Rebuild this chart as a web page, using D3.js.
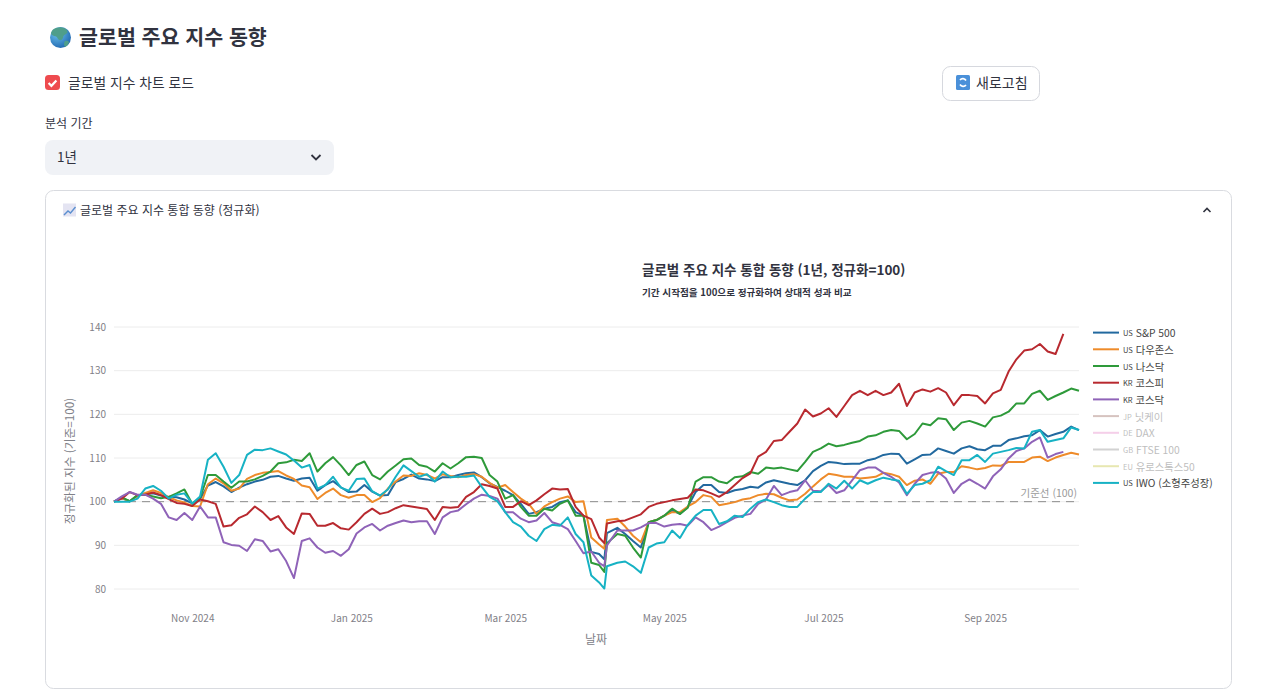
<!DOCTYPE html>
<html lang="ko">
<head>
<meta charset="utf-8">
<title>글로벌 주요 지수 동향</title>
<script src="https://cdn.jsdelivr.net/npm/d3@7"></script>
<style>
    html, body { margin: 0; padding: 0; background: #fff; overflow: hidden; }
    svg { display: block; }
    text { font-family: "Noto Sans CJK KR", "Noto Sans", sans-serif; }
</style>
</head>
<body>
<svg id="page" width="1280" height="694"></svg>
<script>
// roughly one value every 3 days, with the April 8-9 low and rebound kept as their own points
const dates = [
    ...d3.timeDay.range(new Date(2024, 9, 2), new Date(2025, 3, 7), 3),
    new Date(2025, 3, 8),
    new Date(2025, 3, 9),
    ...d3.timeDay.range(new Date(2025, 3, 13), new Date(2025, 9, 8), 3)
];

const sp500 = [
    100,100.8,100.1,101.4,101.8,101.9,101.4,101.1,101,100.5,99.6,100.6,103.7,104.5,103.5,102.2,103.2,104,104.6,105,105.7,
    105.9,105.3,104.8,105.3,105.5,102.5,103.8,104.7,103.3,102.2,102.3,103.8,102.3,101.4,101.5,104.5,105.2,106.2,105.3,105.1,104.7,
    105.6,105.6,106.1,106.5,106.7,105.6,104.2,103.4,102.5,101.5,99.5,97.2,97.6,98.4,98.8,99.9,100.3,97.6,96.8,88.5,88,86.8,92.8,94,
    92.6,91,89.5,95.3,95.8,96.8,98,97.2,98.8,102.2,103.8,103.8,102.2,102,102.6,
    102.9,103.4,103.2,104.4,104.9,104.5,104.1,103.8,104.9,107,108.2,109.1,108.9,108.6,108.7,108.7,109.5,109.9,110.7,111,110.9,
    108.7,109.7,110.7,110.8,112.2,111.6,111,112.2,112.7,112,111.8,112.8,112.8,114.1,114.5,115,115.2,116.4,114.9,115.5,116,117.2,116.4
];
const dow = [
    100,100.8,100.1,101.3,102,102.6,102,101,100.3,99.8,99,98.9,104,105.3,104.2,102.5,103,105.2,106.1,106.6,106.8,
    107,106,105.2,103.7,103.3,100.6,102,103,101.5,100.9,101.5,101.5,99.9,100.8,103,104.6,106,105.9,106.5,106.1,105.3,
    106.3,105.9,105.6,106.1,106.3,105.7,104.3,103.2,103.8,102.2,100.7,99.5,97.2,98.9,99.9,100.7,101.2,99.9,100.1,91.8,90.2,89.2,95.8,96.1,
    94.3,92.2,90.7,95.3,95.8,96.8,97.6,97.6,98.9,99.9,101.5,101.1,99.2,99.5,99.9,
    100.5,100.8,101.5,101.8,101.7,100.9,100.3,100.5,101.8,103.5,105.1,106.4,106.1,105.7,105.7,105.3,105.5,105.7,106.6,106.3,105.7,
    103.8,104.8,105.1,104.1,106.4,106.8,106.8,108.1,107.8,107.4,107.7,108.3,108.2,109.1,109.1,109.1,110.1,110.3,109.3,110.1,110.7,111.2,110.8
];
const nasdaq = [
    100,101,100.1,101.5,101.6,101.2,100.8,101.1,101.9,102.8,99.5,100.9,106.1,106.1,104.6,103.2,104.6,104.6,105.1,105.9,106.9,
    108.8,109,109.6,109.3,111.1,106.9,108.8,110.2,108.3,106.1,108.4,109.2,106.1,105.1,106.9,108.3,109.7,109.9,108.4,108,106.9,
    108.8,107.6,108.8,110.2,110.3,110,106.1,104.6,100.7,101.5,98.8,96.8,96.8,98.4,98,99.5,100.3,96.8,96.8,86,85.5,83.9,90.5,92.6,
    92.2,89.5,87.2,95.3,95.8,96.8,98.4,97.2,98.6,104.6,105.6,105.6,104.6,104.2,105.6,
    105.8,106.8,106.4,107.8,107.6,107.8,107.4,107,109.1,111.4,112.2,113.3,112.7,113,113.5,113.9,114.9,115.2,116,116.4,116.2,
    114.3,115.5,117.9,117.5,119.1,118.9,116.4,118.1,118.5,117.9,117.2,119.3,119.7,120.6,122.5,122.5,124.7,125.4,123.3,124.2,125,125.9,125.4
];
const kospi = [
    100,100.7,102.2,101.5,101.6,102.1,101.5,100.6,99.7,99.5,99,100.5,100.1,99.5,94.3,94.6,96.3,97.1,98.9,97.6,95.8,
    96.7,94.1,92.6,97.3,97.2,94.5,94.5,95.1,93.9,93.6,95.3,97.2,98.4,97.2,97.6,98.5,99.2,98.9,98.6,98.3,95.8,
    98.8,98.6,98.8,101.1,102.2,104,103.6,103,98.8,98.8,100.1,99.2,100.3,101.7,103,102.8,102.9,98.8,96.8,96,91.8,90.5,95,95.5,
    95.7,96.4,97.1,98.8,99.5,99.9,100.3,100.6,100.9,102.8,102.6,101.9,101.1,102.2,103.8,
    105.4,106.5,110.3,111.4,113.9,114.1,116,117.9,121.1,119.5,120.2,121.4,119.4,121.9,124.4,125.4,124.4,125.4,124.4,125,127,
    121.9,125,125.7,125.2,126,125,122.1,124.4,124.4,124.2,122.5,124.8,125.6,129.8,132.6,134.6,134.9,136.1,134.4,133.8,138.4,null,null
];
const kosdaq = [
    100,101.2,102.2,101.6,101.6,100.7,99.5,96.4,95.8,97.4,95.8,98.9,96.4,96.4,90.7,90.1,89.9,88.7,91.4,91,88.6,
    89.1,86.4,82.5,91,91.6,89.5,88.3,88.7,87.6,89.1,92.7,94.1,94.9,93.4,94.5,95.1,95.7,95.3,95.5,95.5,92.6,
    96.4,97.6,98,99.4,100.7,101.6,101.3,100.7,97.6,97.6,96.1,95.3,95.7,97.4,95.3,94.7,93.7,91,88.2,88.6,86,85.2,90,93.4,
    93.4,93.4,94.1,95.1,95.1,94.3,94.7,94.9,94.5,96.4,95.3,93.5,94.3,95.3,96.3,
    96.8,97.2,99.5,100.5,103.6,101.5,102.2,102.6,104.9,102.5,102.4,103.8,102,102.6,104.9,107.2,107.8,107.8,106.6,105.7,104.4,
    101.5,104.1,106.1,106.6,106.8,105.3,102,104.1,105.1,104.1,103,105.8,107.4,109.9,111.6,112.2,113.7,114.7,110.1,110.9,111.4,null,null
];
const iwo = [
    100,100,100,100.7,103,103.6,102.5,100.7,101.6,101.9,99.6,101.2,109.6,111.1,108,104.3,106.1,110.7,111.9,111.8,112.2,
    111.5,110.8,109.4,107.8,108.4,103,103.8,105.7,103.2,102.5,105.2,105.3,102.4,101.4,102.8,105.7,108.3,107,105.7,106.3,104.6,
    106.9,105.6,105.7,105.7,106,103.4,101.1,100.1,97.6,95.3,94.3,92.2,91,93.7,94.7,94.5,96.4,92.6,90.7,83.1,81.5,80.1,85.2,86,
    86.3,85.2,83.7,89.5,90.4,90.7,93.4,91.7,94.7,96.8,98.1,98.1,94.9,95.5,96.8,
    96.5,98.4,99.9,100.5,99.9,99.2,98.8,98.8,100.7,102.2,102.2,104.1,103,104.8,103,104.9,104.1,104.9,105.5,105.1,104.8,
    101.8,103.8,104.1,104.9,108,107,106.1,109.5,109.5,110.7,109.1,111,111.4,111.8,112.3,112.2,116,116.4,113.7,114.1,114.5,117,116.4
];

const seriesNames = ['S&P 500', '다우존스', '나스닥', '코스피', '코스닥', '닛케이', 'DAX', 'FTSE 100', '유로스톡스50', 'IWO (소형주성장)'];
const seriesFlags = ['US', 'US', 'US', 'KR', 'KR', 'JP', 'DE', 'GB', 'EU', 'US'];
const seriesColors = ['#22699f', '#ee8b2a', '#2e9a3a', '#b8292f', '#8f63b8', '#8c564b', '#e377c2', '#7f7f7f', '#bcbd22', '#17b2c4'];
// nikkei, dax, ftse, stoxx are switched off in the chart, legend only
const seriesValues = [sp500, dow, nasdaq, kospi, kosdaq, null, null, null, null, iwo];

const xTicks = [new Date(2024, 10, 1), new Date(2025, 0, 1), new Date(2025, 2, 1), new Date(2025, 4, 1), new Date(2025, 6, 1), new Date(2025, 8, 1)];
const yTicks = [80, 90, 100, 110, 120, 130, 140];

const ink = '#31333f';
const svg = d3.select('#page');

function label(x, y, txt, size, opts) {
    opts = opts || {};
    return svg.append('text')
        .attr('x', x)
        .attr('y', y)
        .attr('dominant-baseline', 'central')
        .attr('text-anchor', opts.anchor || 'start')
        .attr('font-size', size)
        .attr('font-weight', opts.weight || 400)
        .attr('fill', opts.fill || ink)
        .text(txt);
}

// ---- page furniture
const defs = svg.append('defs');
const globeGrad = defs.append('radialGradient').attr('id', 'globe').attr('cx', '35%').attr('cy', '30%').attr('r', '80%');
globeGrad.append('stop').attr('offset', '0%').attr('stop-color', '#6cc4ee');
globeGrad.append('stop').attr('offset', '100%').attr('stop-color', '#1c62ad');

svg.append('circle').attr('cx', 60.5).attr('cy', 37.5).attr('r', 10.5).attr('fill', 'url(#globe)');
svg.append('path')
    .attr('d', 'M56 28 q6 -2 10 1 q3 3 0 5 q-3 1 -3 4 q-2 4 -5 1 q-1 -3 -4 -3 q-3 -1 -3 -3 q1 -4 5 -5z M65 41 q3 -1 4 1 q-1 4 -4 5 q-2 -3 0 -6z')
    .attr('fill', '#4f9e8a');
label(79, 36, '글로벌 주요 지수 동향', 20.6, { weight: 700 });

svg.append('rect').attr('x', 45).attr('y', 75).attr('width', 15).attr('height', 15).attr('rx', 3.5).attr('fill', '#ee4b4f');
svg.append('path').attr('d', 'M48.6 83 l2.8 2.8 l5 -5.4').attr('fill', 'none').attr('stroke', '#fff').attr('stroke-width', 2.2);
label(68, 81.5, '글로벌 지수 차트 로드', 13.8);

svg.append('rect').attr('x', 942.5).attr('y', 66.5).attr('width', 97).attr('height', 34).attr('rx', 8)
    .attr('fill', '#fff').attr('stroke', '#d6d8de');
svg.append('rect').attr('x', 956).attr('y', 75).attr('width', 14).attr('height', 15).attr('rx', 1.5).attr('fill', '#4a90d9');
svg.append('path').attr('d', 'M960 80 a3.6 3.6 0 0 1 6 0.5 M966 85 a3.6 3.6 0 0 1 -6 -0.5')
    .attr('fill', 'none').attr('stroke', '#fff').attr('stroke-width', 1.6);
label(976, 81.5, '새로고침', 14);

label(45, 122.5, '분석 기간', 12);
svg.append('rect').attr('x', 45).attr('y', 140).attr('width', 289).attr('height', 35).attr('rx', 8).attr('fill', '#f0f2f6');
label(57, 156, '1년', 13.5);
svg.append('path').attr('d', 'M311.5 155 l4.5 4.5 l4.5 -4.5').attr('fill', 'none').attr('stroke', ink).attr('stroke-width', 1.8);

svg.append('rect').attr('x', 45.5).attr('y', 190.5).attr('width', 1186).attr('height', 498).attr('rx', 8)
    .attr('fill', '#fff').attr('stroke', '#d9dbe0');
svg.append('rect').attr('x', 63).attr('y', 203.5).attr('width', 13).attr('height', 13).attr('fill', '#e4e4f2');
svg.append('path').attr('d', 'M64 215 l4 -4 l2.5 2 l5 -6').attr('fill', 'none').attr('stroke', '#5b8fd0').attr('stroke-width', 1.4);
label(80, 209, '글로벌 주요 지수 통합 동향 (정규화)', 12);
svg.append('path').attr('d', 'M1203.5 212 l3.5 -3.5 l3.5 3.5').attr('fill', 'none').attr('stroke', ink).attr('stroke-width', 1.6);

// ---- chart
label(642, 269, '글로벌 주요 지수 통합 동향 (1년, 정규화=100)', 13.5, { weight: 700 });
label(642, 292, '기간 시작점을 100으로 정규화하여 상대적 성과 비교', 9.6, { weight: 700 });

const xScale = d3.scaleTime().domain([dates[0], dates[dates.length - 1]]).range([114, 1079]);
const yScale = d3.scaleLinear().domain([80, 140]).range([589, 327]);

const grid = svg.append('g');
grid.selectAll('line')
    .data(yTicks)
    .join('line')
    .attr('x1', xScale.range()[0])
    .attr('x2', xScale.range()[1])
    .attr('y1', d => yScale(d))
    .attr('y2', d => yScale(d))
    .attr('stroke', '#ececec');

const yAxis = svg.append('g')
    .attr('transform', 'translate(111,0)')
    .call(d3.axisLeft(yScale).tickValues(yTicks).tickSize(0).tickPadding(5));
yAxis.select('.domain').remove();

const xAxis = svg.append('g')
    .attr('transform', 'translate(0,612)')
    .call(d3.axisBottom(xScale).tickValues(xTicks).tickSize(0).tickPadding(3).tickFormat(d3.timeFormat('%b %Y')));
xAxis.select('.domain').remove();

svg.selectAll('.tick text')
    .attr('font-family', '"Noto Sans CJK KR", "Noto Sans", sans-serif')
    .attr('font-size', 10)
    .attr('fill', '#7f8087');

svg.append('line')
    .attr('x1', xScale.range()[0])
    .attr('x2', xScale.range()[1])
    .attr('y1', yScale(100))
    .attr('y2', yScale(100))
    .attr('stroke', '#8d8d8d')
    .attr('stroke-width', 1)
    .attr('stroke-dasharray', '8,6');
label(1077, 492.5, '기준선 (100)', 10.5, { anchor: 'end', fill: '#9a9a9a' });

const line = d3.line()
    .defined(d => d != null)
    .x((d, i) => xScale(dates[i]))
    .y(d => yScale(d));

svg.append('g').selectAll('path')
    .data(seriesValues.map((v, i) => ({ v: v, c: seriesColors[i] })).filter(d => d.v))
    .join('path')
    .attr('d', d => line(d.v))
    .attr('fill', 'none')
    .attr('stroke', d => d.c)
    .attr('stroke-width', 2)
    .attr('stroke-linejoin', 'round');

label(596, 638, '날짜', 12, { anchor: 'middle', fill: '#808188' });
svg.append('text')
    .attr('transform', 'translate(68,461) rotate(-90)')
    .attr('text-anchor', 'middle')
    .attr('dominant-baseline', 'central')
    .attr('font-size', 11.7)
    .attr('fill', '#808188')
    .text('정규화된 지수 (기준=100)');

// ---- legend
const legend = svg.append('g').selectAll('g')
    .data(seriesNames)
    .join('g')
    .attr('transform', (d, i) => `translate(1093,${332.6 + i * 16.7})`)
    .attr('opacity', (d, i) => seriesValues[i] ? 1 : 0.35);

legend.append('line')
    .attr('x2', 26)
    .attr('stroke', (d, i) => seriesColors[i])
    .attr('stroke-width', 2);

const legendText = legend.append('text')
    .attr('x', 30)
    .attr('y', -0.5)
    .attr('dominant-baseline', 'central')
    .attr('font-size', 10.3)
    .attr('fill', '#444');
legendText.append('tspan').attr('font-size', 7.5).text((d, i) => seriesFlags[i]);
legendText.append('tspan').attr('dx', 3).text(d => d);
</script>
</body>
</html>
